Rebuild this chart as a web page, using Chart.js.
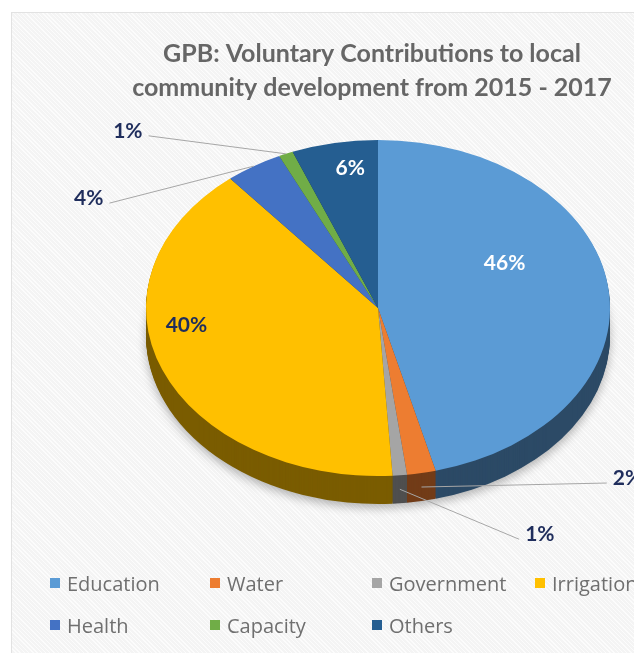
<!DOCTYPE html>
<html>
<head>
<meta charset="utf-8">
<script src="https://cdn.jsdelivr.net/npm/chart.js@4/dist/chart.umd.min.js"></script>
<style>
  html, body { margin: 0; padding: 0; background: #fff; overflow: hidden; }
  body { width: 634px; height: 653px; position: relative; }
  .box {
    position: absolute; left: 11px; top: 12px; width: 700px; height: 700px;
    border: 1px solid #e2e2e2;
    background-color: #f4f4f4;
    background-image: repeating-linear-gradient(45deg, rgba(255,255,255,0.7) 0 1px, transparent 1px 3px);
  }
  canvas { position: absolute; left: 0; top: 0; }
  #legend {
    position: absolute; left: 50px; top: 562px;
    display: grid; grid-template-columns: 160px 162px 163px 200px;
    grid-auto-rows: 42px;
    font-family: "Open Sans", sans-serif; font-size: 20px; color: #6f6f6f;
  }
  #legend div { display: flex; align-items: center; white-space: nowrap; }
  #legend span.sw { width: 10px; height: 10px; margin-right: 7px; flex: none; }
</style>
</head>
<body>
<div class="box"></div>
<canvas id="pieChart" width="634" height="653"></canvas>
<div id="legend"></div>
<script>
// Kategori dan nilai (persen)
const categories = ['Education', 'Water', 'Government', 'Irrigation', 'Health', 'Capacity', 'Others'];
const shares = [46, 2, 1, 40, 4, 1, 6];
const sliceColors = ['#5B9BD5', '#ED7D31', '#A5A5A5', '#FFC000', '#4472C4', '#70AD47', '#255E91'];

// posisi label (gaya saja): inside = di dalam irisan, selain itu pakai garis penunjuk
const navy = '#1f2d5c';
const labelStyle = [
  { inside: true, r: 0.55, dx: 0, dy: -33, color: '#ffffff' },
  { dx: 206, dy: -9, color: navy },
  { dx: 140, dy: 45, color: navy },
  { inside: true, r: 0.8, dx: -19, dy: -32, color: navy },
  { dx: -165, dy: 32, color: navy },
  { dx: -158, dy: -23, color: navy },
  { inside: true, r: 0.8, dx: 7, dy: -8, color: '#ffffff' }
];

function darken(hex, f) {
  const n = parseInt(hex.slice(1), 16);
  const r = Math.round(((n >> 16) & 255) * f);
  const g = Math.round(((n >> 8) & 255) * f);
  const b = Math.round((n & 255) * f);
  return 'rgb(' + r + ',' + g + ',' + b + ')';
}

// Plugin: pie dibuat elips + sisi tebal (efek 3D) dan label persen
const pie3d = {
  id: 'pie3d',
  beforeDatasetsDraw(chart, args, opts) {
    const meta = chart.getDatasetMeta(0);
    const a0 = meta.data[0];
    const ctx = chart.ctx;
    const r = a0.outerRadius;
    const sy = opts.ry / r;
    ctx.save();
    ctx.translate(opts.cx, opts.cy);
    ctx.scale(opts.rx / r, sy);
    ctx.translate(-a0.x, -a0.y);
    for (let d = opts.depth; d > 0; d--) {
      const off = d / sy;
      if (d === opts.depth) {
        ctx.shadowColor = 'rgba(0,0,0,0.28)';
        ctx.shadowBlur = 10;
        ctx.shadowOffsetY = 4;
      }
      meta.data.forEach((arc, i) => {
        ctx.fillStyle = darken(sliceColors[i], 0.48);
        ctx.beginPath();
        ctx.moveTo(arc.x, arc.y + off);
        ctx.arc(arc.x, arc.y + off, r, arc.startAngle, arc.endAngle);
        ctx.closePath();
        ctx.fill();
      });
      ctx.shadowColor = 'transparent';
      ctx.shadowBlur = 0;
      ctx.shadowOffsetY = 0;
    }
  },
  afterDatasetsDraw(chart, args, opts) {
    const ctx = chart.ctx;
    ctx.restore();
    const meta = chart.getDatasetMeta(0);
    const total = shares.reduce((s, v) => s + v, 0);
    ctx.save();
    ctx.font = 'bold 21px Lato, sans-serif';
    ctx.textAlign = 'center';
    ctx.textBaseline = 'middle';
    meta.data.forEach((arc, i) => {
      const st = labelStyle[i];
      const mid = (arc.startAngle + arc.endAngle) / 2;
      const ux = Math.cos(mid), uy = Math.sin(mid);
      const text = Math.round(shares[i] / total * 100) + '%';
      const w = ctx.measureText(text).width;
      let lx, ly;
      if (st.inside) {
        lx = opts.cx + opts.rx * st.r * ux + st.dx;
        ly = opts.cy + opts.ry * st.r * uy + st.dy;
      } else {
        const ax = opts.cx + opts.rx * ux;
        const ay = opts.cy + opts.ry * uy + (uy > 0 ? opts.depth * 0.5 : 0);
        lx = ax + st.dx;
        ly = ay + st.dy;
        const sx = st.dx < 0 ? lx + w / 2 + 6 : lx - w / 2 - 6;
        ctx.strokeStyle = '#a6a6a6';
        ctx.lineWidth = 1;
        ctx.beginPath();
        ctx.moveTo(sx, ly + 5);
        ctx.lineTo(ax, ay);
        ctx.stroke();
      }
      ctx.fillStyle = st.color;
      ctx.fillText(text, lx, ly);
    });
    ctx.restore();
  }
};

const pieCtx = document.getElementById('pieChart').getContext('2d');
const pieChart = new Chart(pieCtx, {
  type: 'pie',
  data: {
    labels: categories,
    datasets: [{
      data: shares,
      backgroundColor: sliceColors,
      borderWidth: 0
    }]
  },
  plugins: [pie3d],
  options: {
    responsive: false,
    animation: false,
    events: [],
    layout: { padding: { top: 37, left: 110, bottom: 20 } },
    plugins: {
      legend: { display: false },
      tooltip: { enabled: false },
      title: {
        display: true,
        text: ['GPB: Voluntary Contributions to local', 'community development from 2015 - 2017'],
        color: '#666666',
        font: { family: 'Lato', size: 25, weight: 'bold', lineHeight: 1.36 },
        padding: { top: 0, bottom: 10 }
      },
      pie3d: { cx: 378, cy: 308, rx: 232, ry: 168, depth: 28 }
    }
  }
});

// Legenda HTML (kolom rata seperti aslinya)
const legendEl = document.getElementById('legend');
categories.forEach((name, i) => {
  const item = document.createElement('div');
  const sw = document.createElement('span');
  sw.className = 'sw';
  sw.style.background = sliceColors[i];
  item.appendChild(sw);
  item.appendChild(document.createTextNode(name));
  legendEl.appendChild(item);
});
</script>
</body>
</html>
